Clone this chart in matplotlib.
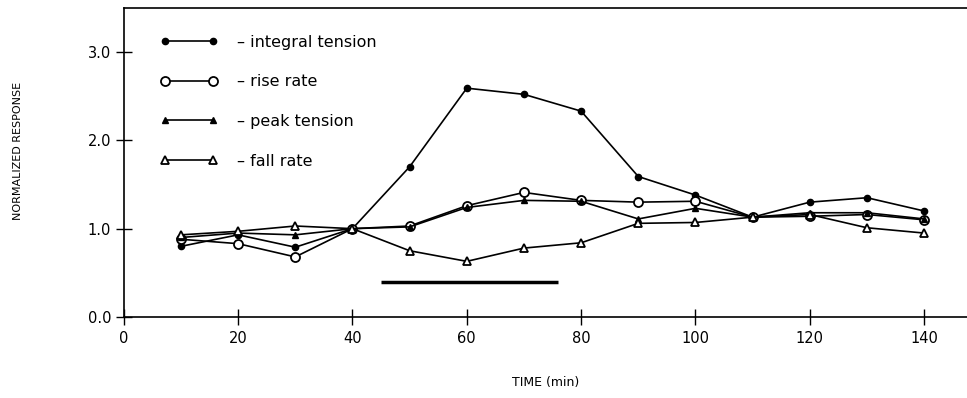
import matplotlib
matplotlib.use("Agg")
import matplotlib.pyplot as plt

time_min = [10, 20, 30, 40, 50, 60, 70, 80, 90, 100, 110, 120, 130, 140]
integral_tension = [0.80, 0.93, 0.79, 1.00, 1.70, 2.59, 2.52, 2.33, 1.59, 1.38, 1.13, 1.30, 1.35, 1.20]
rise_rate = [0.88, 0.83, 0.68, 1.00, 1.03, 1.26, 1.41, 1.32, 1.30, 1.31, 1.13, 1.14, 1.16, 1.10]
peak_tension = [0.90, 0.95, 0.93, 1.00, 1.02, 1.24, 1.32, 1.31, 1.11, 1.23, 1.13, 1.18, 1.18, 1.11]
fall_rate = [0.93, 0.97, 1.03, 1.00, 0.75, 0.63, 0.78, 0.84, 1.06, 1.07, 1.13, 1.16, 1.01, 0.95]
treatment_bar_x = [45, 76]
treatment_bar_y = [0.40, 0.40]
labels = ["– integral tension", "– rise rate", "– peak tension", "– fall rate"]
x_ticks = [0, 20, 40, 60, 80, 100, 120, 140]
y_ticks = [0.0, 1.0, 2.0, 3.0]

fig = plt.figure(figsize=(9.67, 3.98), dpi=100)
ax = fig.add_axes([0.128, 0.2035, 0.872, 0.777])

lw = 1.2
ax.plot(time_min, integral_tension, color="black", lw=lw, marker="o", ms=4.5,
        mfc="black", mec="black", label=labels[0])
ax.plot(time_min, rise_rate, color="black", lw=lw, marker="o", ms=6.5,
        mfc="white", mec="black", mew=1.3, label=labels[1])
ax.plot(time_min, peak_tension, color="black", lw=lw, marker="^", ms=4,
        mfc="black", mec="black", label=labels[2])
ax.plot(time_min, fall_rate, color="black", lw=lw, marker="^", ms=6,
        mfc="white", mec="black", mew=1.3, label=labels[3])
ax.plot(treatment_bar_x, treatment_bar_y, color="black", lw=2.5, solid_capstyle="butt")

ax.set_xlim(0, 147.5)
ax.set_ylim(0, 3.5)
ax.set_xticks(x_ticks)
ax.set_xticklabels([str(v) for v in x_ticks])
ax.set_yticks(y_ticks)
ax.set_yticklabels([f"{v:.1f}" for v in y_ticks])
ax.tick_params(axis="x", direction="inout", length=12, width=1, labelsize=10.5, pad=4)
ax.tick_params(axis="y", direction="inout", length=12, width=1, labelsize=10.5, pad=3)
ax.spines["right"].set_visible(False)
for s in ["left", "bottom", "top"]:
    ax.spines[s].set_linewidth(1.2)

ax.set_xlabel("TIME (min)", fontsize=9, labelpad=22)
fig.text(0.019, 0.62, "NORMALIZED RESPONSE", rotation=90, fontsize=8, va="center", ha="center")

leg = ax.legend(loc="upper left", bbox_to_anchor=(0.026, 0.96), frameon=False,
                numpoints=2, handlelength=3.6, handletextpad=1.2, labelspacing=1.55,
                fontsize=11.5)

fig.savefig("out.png", dpi=100)
